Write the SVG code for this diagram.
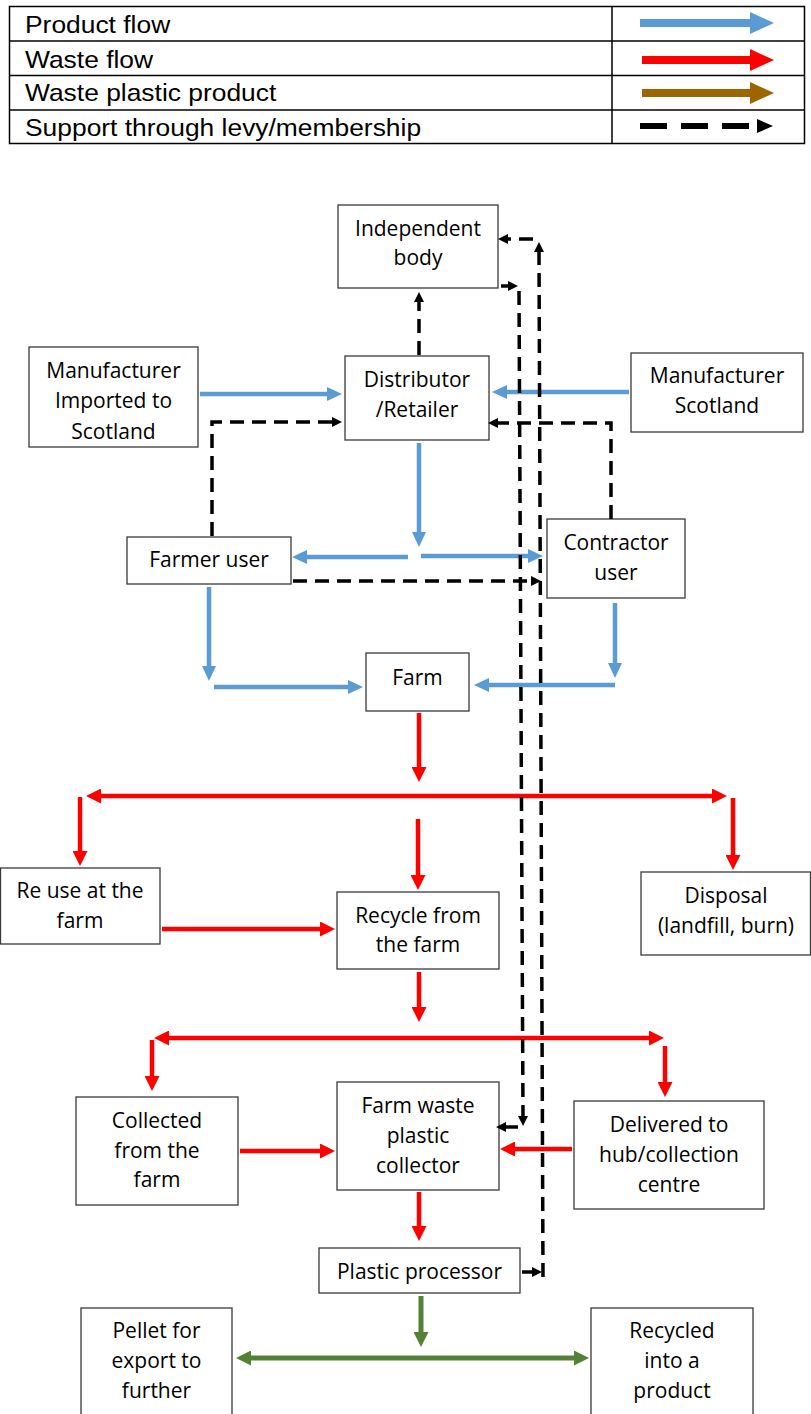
<svg xmlns="http://www.w3.org/2000/svg" width="811" height="1414" viewBox="0 0 811 1414">
<style>
.box{fill:#fff;stroke:#3a3a3a;stroke-width:1.3}
.nt{font-family:"Open Sans","Liberation Sans",sans-serif;font-size:21px;fill:#000;text-anchor:middle}
.lt{font-family:"Liberation Sans",Arial,sans-serif;font-size:24px;fill:#000}
.blue{stroke:#5B9BD5;stroke-width:4.5;fill:none;marker-end:url(#mb)}
.red{stroke:#FF0000;stroke-width:4.5;fill:none;marker-end:url(#mr)}
.red2{stroke:#FF0000;stroke-width:4.5;fill:none;marker-start:url(#mr);marker-end:url(#mr)}
.green{stroke:#548235;stroke-width:5;fill:none;marker-end:url(#mg)}
.green2{stroke:#548235;stroke-width:5;fill:none;marker-start:url(#mg);marker-end:url(#mg)}
.dash{stroke:#000;stroke-width:3.5;fill:none;stroke-dasharray:14 8;marker-end:url(#mk)}
</style>
<defs>
<marker id="mb" viewBox="0 0 10 10" refX="0" refY="5" markerUnits="userSpaceOnUse" markerWidth="15" markerHeight="14" orient="auto-start-reverse" preserveAspectRatio="none"><path d="M0,0L10,5L0,10z" fill="#5B9BD5"/></marker>
<marker id="mr" viewBox="0 0 10 10" refX="0" refY="5" markerUnits="userSpaceOnUse" markerWidth="15" markerHeight="15" orient="auto-start-reverse" preserveAspectRatio="none"><path d="M0,0L10,5L0,10z" fill="#FF0000"/></marker>
<marker id="mg" viewBox="0 0 10 10" refX="0" refY="5" markerUnits="userSpaceOnUse" markerWidth="15" markerHeight="15" orient="auto-start-reverse" preserveAspectRatio="none"><path d="M0,0L10,5L0,10z" fill="#548235"/></marker>
<marker id="mk" viewBox="0 0 10 10" refX="0" refY="5" markerUnits="userSpaceOnUse" markerWidth="10" markerHeight="10" orient="auto-start-reverse" preserveAspectRatio="none"><path d="M0,0L10,5L0,10z" fill="#000"/></marker>
</defs>

<g id="legend">
<rect x="9.5" y="6.5" width="795" height="137" fill="#fff" stroke="#000" stroke-width="1.5"/>
<line x1="9.5" y1="41" x2="804.5" y2="41" stroke="#000" stroke-width="1.5"/>
<line x1="9.5" y1="75.5" x2="804.5" y2="75.5" stroke="#000" stroke-width="1.5"/>
<line x1="9.5" y1="110" x2="804.5" y2="110" stroke="#000" stroke-width="1.5"/>
<line x1="612" y1="6.5" x2="612" y2="143.5" stroke="#000" stroke-width="1.5"/>
<g transform="translate(25,0) scale(1.1,1)">
<text class="lt" x="0" y="33">Product flow</text>
<text class="lt" x="0" y="68">Waste flow</text>
<text class="lt" x="0" y="101">Waste plastic product</text>
<text class="lt" x="0" y="136">Support through levy/membership</text>
</g>
<polygon points="640,19 750,19 750,12 774,23 750,34 750,27 640,27" fill="#5B9BD5"/>
<polygon points="642,56 750,56 750,49 774,60 750,71 750,64 642,64" fill="#FF0000"/>
<polygon points="642,89 750,89 750,82 774,93 750,104 750,97 642,97" fill="#9C6500"/>
<line x1="640" y1="126" x2="752" y2="126" stroke="#000" stroke-width="6" stroke-dasharray="27 14"/>
<polygon points="757,119 773,126 757,133" fill="#000"/>
</g>

<g id="independent-body"><rect class="box" x="338" y="205" width="160" height="83"/><text class="nt" x="418" y="236">Independent</text><text class="nt" x="418" y="265">body</text></g>
<g id="distributor"><rect class="box" x="345" y="356" width="144" height="84"/><text class="nt" x="417" y="387">Distributor</text><text class="nt" x="417" y="417">/Retailer</text></g>
<g id="manufacturer-imported"><rect class="box" x="29" y="347" width="169" height="100"/><text class="nt" x="113.5" y="378">Manufacturer</text><text class="nt" x="113.5" y="408">Imported to</text><text class="nt" x="113.5" y="439">Scotland</text></g>
<g id="manufacturer-scotland"><rect class="box" x="631" y="353" width="172" height="79"/><text class="nt" x="717" y="383">Manufacturer</text><text class="nt" x="717" y="413">Scotland</text></g>
<g id="farmer-user"><rect class="box" x="127" y="537" width="164" height="47"/><text class="nt" x="209" y="567">Farmer user</text></g>
<g id="contractor-user"><rect class="box" x="547" y="519" width="138" height="79"/><text class="nt" x="616" y="550">Contractor</text><text class="nt" x="616" y="580">user</text></g>
<g id="farm"><rect class="box" x="366" y="653" width="103" height="58"/><text class="nt" x="417.5" y="685">Farm</text></g>
<g id="reuse"><rect class="box" x="0.5" y="868" width="159.5" height="76"/><text class="nt" x="80" y="898">Re use at the</text><text class="nt" x="80" y="928">farm</text></g>
<g id="recycle"><rect class="box" x="337" y="892" width="162" height="77"/><text class="nt" x="418" y="923">Recycle from</text><text class="nt" x="418" y="952">the farm</text></g>
<g id="disposal"><rect class="box" x="641" y="872" width="169.5" height="83"/><text class="nt" x="726" y="903">Disposal</text><text class="nt" x="726" y="933">(landfill, burn)</text></g>
<g id="collected"><rect class="box" x="76" y="1097" width="162" height="108"/><text class="nt" x="157" y="1128">Collected</text><text class="nt" x="157" y="1158">from the</text><text class="nt" x="157" y="1187">farm</text></g>
<g id="collector"><rect class="box" x="337" y="1082" width="162" height="108"/><text class="nt" x="418" y="1113">Farm waste</text><text class="nt" x="418" y="1143">plastic</text><text class="nt" x="418" y="1173">collector</text></g>
<g id="delivered"><rect class="box" x="574" y="1101" width="190" height="108"/><text class="nt" x="669" y="1132">Delivered to</text><text class="nt" x="669" y="1162">hub/collection</text><text class="nt" x="669" y="1192">centre</text></g>
<g id="processor"><rect class="box" x="319" y="1248" width="201" height="45"/><text class="nt" x="419.5" y="1279">Plastic processor</text></g>
<g id="pellet"><rect class="box" x="81" y="1308" width="151" height="130"/><text class="nt" x="156.5" y="1338">Pellet for</text><text class="nt" x="156.5" y="1368">export to</text><text class="nt" x="156.5" y="1398">further</text></g>
<g id="recycled"><rect class="box" x="591" y="1308" width="162" height="130"/><text class="nt" x="672" y="1338">Recycled</text><text class="nt" x="672" y="1368">into a</text><text class="nt" x="672" y="1398">product</text></g>

<g id="connectors">
<line class="blue" x1="200" y1="394" x2="327" y2="394"/>
<line class="blue" x1="629" y1="392" x2="507" y2="392"/>
<line class="blue" x1="419" y1="443" x2="419" y2="532"/>
<line class="blue" x1="408" y1="557" x2="307" y2="557"/>
<line class="blue" x1="421" y1="556" x2="528" y2="556"/>
<line class="blue" x1="209" y1="587" x2="209" y2="666"/>
<line class="blue" x1="214" y1="687" x2="348" y2="687"/>
<line class="blue" x1="615" y1="603" x2="615" y2="663"/>
<line class="blue" x1="615" y1="685" x2="489" y2="685"/>

<line class="red" x1="419" y1="713" x2="419" y2="767"/>
<line class="red2" x1="101" y1="796" x2="712" y2="796"/>
<line class="red" x1="80" y1="797" x2="80" y2="851"/>
<line class="red" x1="418" y1="819" x2="418" y2="875"/>
<line class="red" x1="733" y1="798" x2="733" y2="855"/>
<line class="red" x1="162" y1="929" x2="320" y2="929"/>
<line class="red" x1="419" y1="972" x2="419" y2="1007"/>
<line class="red2" x1="169" y1="1038" x2="649" y2="1038"/>
<line class="red" x1="152" y1="1040" x2="152" y2="1076"/>
<line class="red" x1="665" y1="1046" x2="665" y2="1082"/>
<line class="red" x1="240" y1="1151" x2="320" y2="1151"/>
<line class="red" x1="572" y1="1149" x2="515" y2="1149"/>
<line class="red" x1="419" y1="1192" x2="419" y2="1226"/>

<line class="green" x1="421" y1="1296" x2="421" y2="1332"/>
<line class="green2" x1="251" y1="1358" x2="574" y2="1358"/>

<path class="dash" d="M419,355V302"/>
<path class="dash" d="M212,536V422H332"/>
<path class="dash" d="M611,519V423H498"/>
<path class="dash" d="M293,581H531"/>
<path class="dash" d="M522,1272H532"/>
<path class="dash" d="M543,1277L539,252"/>
<path class="dash" d="M533,239H508"/>
<path class="dash" d="M501,286H508"/>
<path class="dash" d="M519,291L523,1116"/>
<path class="dash" d="M518,1127H506"/>
</g>
</svg>
